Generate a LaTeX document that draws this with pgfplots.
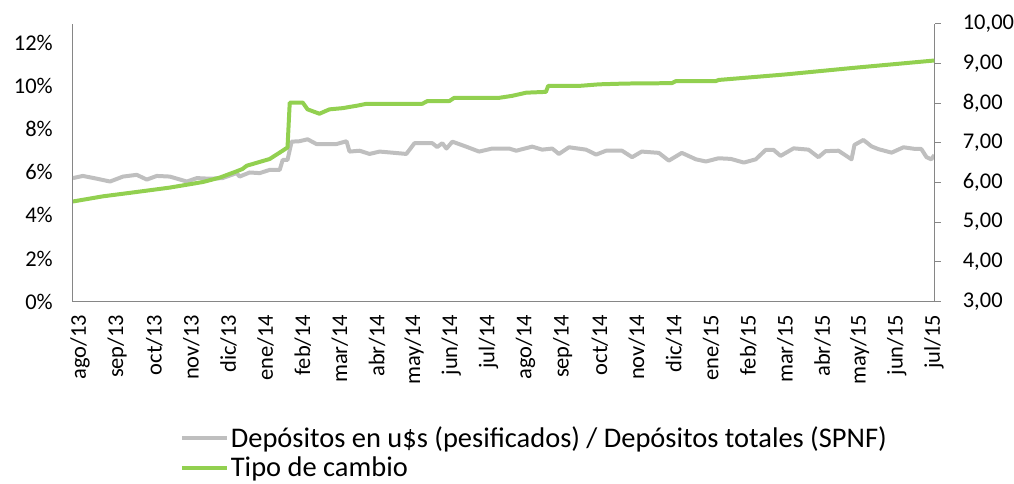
\documentclass[border=0pt]{standalone}
\usepackage{fontspec}
\setmainfont{Carlito}
\usepackage{pgfplots}
\pgfplotsset{compat=1.18}
\definecolor{dgrey}{RGB}{191,191,191}
\definecolor{dgreen}{RGB}{146,208,80}
\definecolor{axgrey}{RGB}{134,134,134}

\pgfplotstableread{
x y
-0.19 5.73
0.08 5.83
0.46 5.70
0.81 5.57
1.16 5.80
1.53 5.88
1.80 5.66
2.07 5.83
2.42 5.80
2.88 5.57
3.15 5.73
3.50 5.70
3.84 5.73
4.22 5.96
4.30 5.80
4.57 5.99
4.84 5.96
5.11 6.11
5.38 6.11
5.46 6.57
5.59 6.57
5.70 7.42
5.91 7.44
6.13 7.53
6.37 7.31
6.91 7.31
7.18 7.44
7.26 6.96
7.53 7.00
7.80 6.85
8.07 6.96
8.41 6.91
8.79 6.85
9.01 7.35
9.49 7.35
9.62 7.17
9.76 7.35
9.87 7.10
10.03 7.42
10.40 7.19
10.75 6.96
11.10 7.10
11.56 7.10
11.75 7.00
12.18 7.19
12.45 7.05
12.72 7.10
12.90 6.85
13.17 7.16
13.63 7.05
13.90 6.82
14.17 7.00
14.60 7.00
14.87 6.70
15.13 6.96
15.59 6.90
15.86 6.54
16.21 6.90
16.59 6.60
16.86 6.50
17.20 6.65
17.53 6.62
17.88 6.45
18.20 6.60
18.47 7.04
18.68 7.04
18.87 6.76
19.22 7.11
19.62 7.05
19.89 6.70
20.08 6.98
20.43 7.00
20.78 6.60
20.86 7.27
21.10 7.50
21.32 7.20
21.51 7.07
21.86 6.91
22.18 7.16
22.50 7.08
22.66 7.08
22.80 6.70
22.93 6.60
23.01 6.80
}\depositos

\pgfplotstableread{
x y
-0.19 5.52
0.62 5.65
1.53 5.76
2.42 5.87
3.31 6.01
3.76 6.12
4.22 6.28
4.38 6.34
4.49 6.42
5.11 6.59
5.46 6.80
5.59 6.88
5.65 8.01
6.00 8.01
6.13 7.84
6.45 7.73
6.72 7.84
7.07 7.87
7.45 7.93
7.72 7.98
9.22 7.98
9.36 8.05
9.95 8.05
10.08 8.13
11.29 8.13
11.64 8.18
12.02 8.26
12.55 8.28
12.61 8.43
13.44 8.43
13.98 8.47
14.70 8.49
15.94 8.50
16.05 8.55
17.12 8.55
17.20 8.58
19.01 8.72
20.78 8.88
23.01 9.07
}\cambio

\begin{document}
\begin{tikzpicture}
\begin{axis}[
  at={(0pt,0pt)}, anchor=south west,
  scale only axis, width=863pt, height=278.4pt,
  xmin=-0.19, xmax=23.02, ymin=0, ymax=12.9,
  axis x line*=bottom, axis y line*=left,
  axis line style={-, draw=axgrey, line width=1pt},
  major tick length=0pt,
  xtick={0,...,23},
  xticklabels={ago/13,sep/13,oct/13,nov/13,dic/13,ene/14,feb/14,mar/14,abr/14,may/14,jun/14,jul/14,ago/14,sep/14,oct/14,nov/14,dic/14,ene/15,feb/15,mar/15,abr/15,may/15,jun/15,jul/15},
  xticklabel style={rotate=90, anchor=east, inner sep=0pt, font=\fontsize{22.5}{22.5}\selectfont},
  xticklabel shift=13pt,
  ytick={0,2,4,6,8,10,12},
  yticklabels={0\%,2\%,4\%,6\%,8\%,10\%,12\%},
  yticklabel style={anchor=east, inner sep=0pt, font=\fontsize{22.5}{22.5}\selectfont},
  yticklabel shift=20pt,
]
\addplot[dgrey, line width=4pt, line join=round] table[x=x,y=y] {\depositos};
\end{axis}
\begin{axis}[
  at={(0pt,0pt)}, anchor=south west,
  scale only axis, width=863pt, height=278.4pt,
  xmin=-0.19, xmax=23.02, ymin=3, ymax=10,
  axis x line=none, axis y line*=right,
  axis line style={-, draw=axgrey, line width=1pt},
  ytick={3,4,5,6,7,8,9,10},
  yticklabels={{3,00},{4,00},{5,00},{6,00},{7,00},{8,00},{9,00},{10,00}},
  tick align=outside, major tick length=6pt,
  tick style={axgrey, line width=1pt},
  yticklabel style={anchor=west, inner sep=0pt, font=\fontsize{22.5}{22.5}\selectfont},
  yticklabel shift=22pt,
  legend cell align=left,
  legend image code/.code={\draw[#1] (0pt,0pt) -- (45pt,0pt);},
  legend style={at={(0.124,-0.442)}, anchor=north west, draw=none, fill=none,
    font=\fontsize{28.5}{28.5}\selectfont, inner sep=0pt, row sep=4pt,
    /tikz/every even column/.append style={column sep=2pt}},
]
\addlegendimage{dgrey, line width=4pt}
\addlegendentry{Depósitos en u\$s (pesificados) / Depósitos totales (SPNF)}
\addplot[dgreen, line width=4pt, line join=round] table[x=x,y=y] {\cambio};
\addlegendentry{Tipo de cambio}
\end{axis}
\path[use as bounding box] (-73pt,-182pt) rectangle (941pt,302pt);
\end{tikzpicture}
\end{document}
